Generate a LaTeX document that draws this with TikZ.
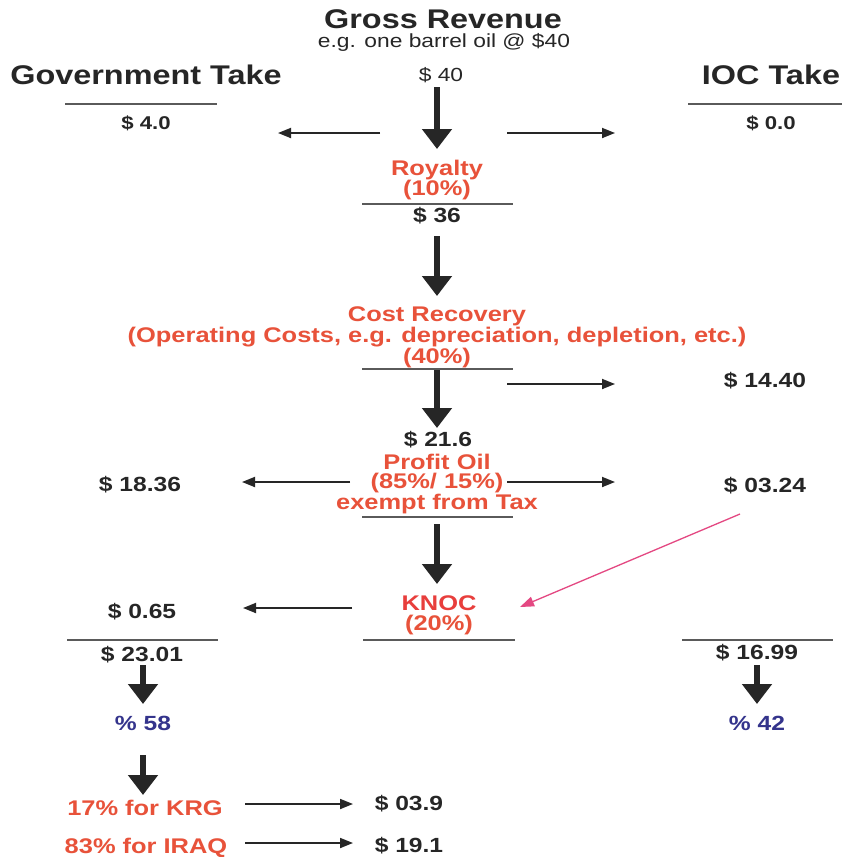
\documentclass[tikz,border=0pt]{standalone}
\usepackage{fontspec}
\setmainfont{Liberation Sans}[FakeStretch=1.2]
\usetikzlibrary{arrows.meta}
\definecolor{ink}{RGB}{38,38,38}
\definecolor{redtxt}{RGB}{232,82,58}
\definecolor{knocred}{RGB}{232,62,60}
\definecolor{bluetxt}{RGB}{52,52,140}
\definecolor{pinkarr}{RGB}{228,72,130}
\definecolor{rulegray}{RGB}{90,90,90}
\tikzset{
  txt/.style={inner sep=0pt, text=ink, align=center},
  big/.style={font=\bfseries\fontsize{27}{29}\selectfont},
  val/.style={font=\bfseries\fontsize{20.5}{20.5}\selectfont},
  valsm/.style={font=\bfseries\fontsize{18.5}{18.5}\selectfont},
  reg/.style={font=\fontsize{19}{19}\selectfont},
  redlbl/.style={text=redtxt, font=\bfseries\fontsize{21.2}{19.6}\selectfont},
  bluelbl/.style={text=bluetxt, font=\bfseries\fontsize{20.5}{20.5}\selectfont},
  bigarrow/.style={draw=ink, line width=5.5pt, -{Triangle[width=29pt,length=20pt]}},
  thinarrow/.style={draw=ink, line width=1.8pt, -{Triangle[width=10pt,length=13pt]}},
  pinkarrow/.style={draw=pinkarr, line width=1.3pt, -{Triangle[width=10pt,length=14pt]}},
  rule/.style={draw=rulegray, line width=1.8pt}
}
\begin{document}
\begin{tikzpicture}[x=1pt,y=-1pt]
\useasboundingbox (0,0) rectangle (842,857);
\fill[white] (0,0) rectangle (842,857);

% headings
\node[txt,big] (title) at (443,19) {Gross Revenue};
\node[txt,reg] (sub) at (444,42) {e.g. one barrel oil @ \$40};
\node[txt,big] (govt) at (146,75) {Government Take};
\node[txt,big] (ioc) at (771,75) {IOC Take};
\node[txt,reg] (s40) at (441,75) {\$ 40};

% first row
\draw[rule] (65,104) -- (217,104);
\draw[rule] (688,104) -- (842,104);
\node[txt,valsm] (g40) at (146,123) {\$ 4.0};
\node[txt,valsm] (i00) at (771,123) {\$ 0.0};

% royalty
\node[txt,redlbl] (royalty) at (437,180) {Royalty\\(10\%)};
\draw[rule] (362,204) -- (513,204);
\node[txt,val] (s36) at (437,216) {\$ 36};

% cost recovery
\node[txt,redlbl] (cost) at (437,337.5) {Cost Recovery\\(Operating Costs, e.g. depreciation, depletion, etc.)\\(40\%)};
\draw[rule] (362,369) -- (513,369);
\node[txt,val] (s1440) at (765,381) {\$ 14.40};

% profit oil
\node[txt,val] (s216) at (438,440) {\$ 21.6};
\node[txt,redlbl] (profit) at (437,484) {Profit Oil\\(85\%/ 15\%)\\exempt from Tax};
\draw[rule] (362,517) -- (513,517);
\node[txt,val] (s1836) at (140,485) {\$ 18.36};
\node[txt,val] (s0324) at (765,486) {\$ 03.24};

% KNOC
\node[txt,redlbl,text=knocred] (knoc) at (439,615) {KNOC\\\textcolor{redtxt}{(20\%)}};
\node[txt,val] (s065) at (142,612) {\$ 0.65};
\draw[rule] (67,640) -- (218,640);
\draw[rule] (363,640) -- (515,640);
\draw[rule] (682,640) -- (833,640);
\node[txt,val] (s2301) at (142,655) {\$ 23.01};
\node[txt,val] (s1699) at (757,653) {\$ 16.99};

% shares
\node[txt,bluelbl] (p58) at (143,723) {\% 58};
\node[txt,bluelbl] (p42) at (757,723) {\% 42};
\node[txt,redlbl] (krg) at (145,808) {17\% for KRG};
\node[txt,redlbl] (iraq) at (146,848) {83\% for IRAQ};
\node[txt,val] (s039) at (409,804) {\$ 03.9};
\node[txt,val] (s191) at (409,846) {\$ 19.1};

% connector end points
\coordinate (a1s) at (437,87);  \coordinate (a1e) at (437,149);
\coordinate (l1s) at (380,133); \coordinate (l1e) at (278,133);
\coordinate (r1s) at (507,133); \coordinate (r1e) at (615,133);
\coordinate (a2s) at (437,236); \coordinate (a2e) at (437,296);
\coordinate (a3s) at (437,370); \coordinate (a3e) at (437,428);
\coordinate (r2s) at (507,384); \coordinate (r2e) at (615,384);
\coordinate (l3s) at (350,482); \coordinate (l3e) at (242,482);
\coordinate (r3s) at (507,482); \coordinate (r3e) at (615,482);
\coordinate (a4s) at (437,524); \coordinate (a4e) at (437,584);
\coordinate (l4s) at (352,608); \coordinate (l4e) at (243,608);
\coordinate (pks) at (740,514); \coordinate (pke) at (520,607);
\coordinate (a5s) at (143,665); \coordinate (a5e) at (143,704);
\coordinate (a6s) at (757,665); \coordinate (a6e) at (757,704);
\coordinate (a7s) at (143,755); \coordinate (a7e) at (143,795);
\coordinate (r7s) at (245,804); \coordinate (r7e) at (353,804);
\coordinate (r8s) at (245,843); \coordinate (r8e) at (353,843);

% arrows
\draw[bigarrow] (a1s) -- (a1e);
\draw[thinarrow] (l1s) -- (l1e);
\draw[thinarrow] (r1s) -- (r1e);
\draw[bigarrow] (a2s) -- (a2e);
\draw[bigarrow] (a3s) -- (a3e);
\draw[thinarrow] (r2s) -- (r2e);
\draw[thinarrow] (l3s) -- (l3e);
\draw[thinarrow] (r3s) -- (r3e);
\draw[bigarrow] (a4s) -- (a4e);
\draw[thinarrow] (l4s) -- (l4e);
\draw[pinkarrow] (pks) -- (pke);
\draw[bigarrow] (a5s) -- (a5e);
\draw[bigarrow] (a6s) -- (a6e);
\draw[bigarrow] (a7s) -- (a7e);
\draw[thinarrow] (r7s) -- (r7e);
\draw[thinarrow] (r8s) -- (r8e);
\end{tikzpicture}
\end{document}
